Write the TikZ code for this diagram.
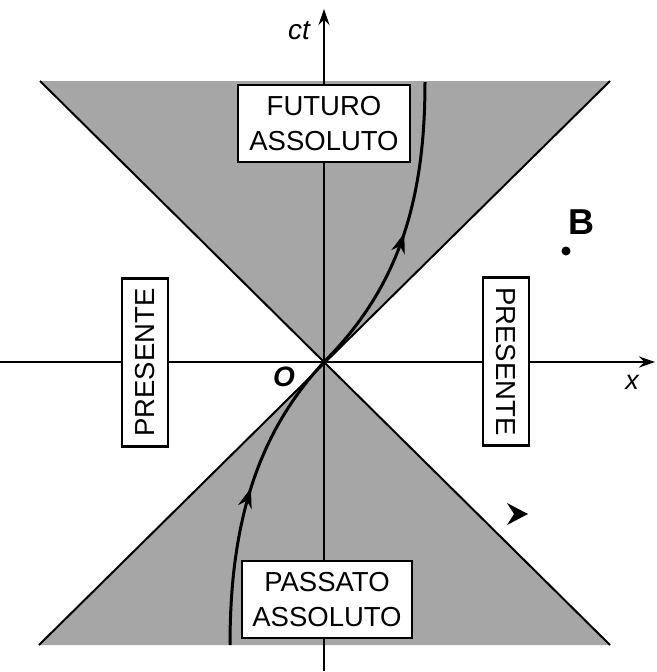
\documentclass[tikz,border=0pt]{standalone}
\usepackage{fontspec}
\setmainfont{Liberation Sans}
\usetikzlibrary{arrows.meta,decorations.markings}
\definecolor{cone}{HTML}{A6A6A6}
\tikzset{
  boxlabel/.style={draw=black, line width=2.4pt, fill=white, inner sep=0pt,
     font=\fontsize{27.5}{35}\selectfont, align=center},
  axis/.style={line width=1.5pt, -{Stealth[length=16pt,width=11pt]}},
  worldline/.style={line width=3pt, postaction={decorate},
     decoration={markings, mark=at position #1 with {\arrow{Stealth[length=20pt,width=14pt]}}}},
  coneedge/.style={line width=2pt},
}
\begin{document}
\begin{tikzpicture}[x=1pt,y=-1pt]
\useasboundingbox (0,0) rectangle (656,672);
% coordinates
\coordinate (O) at (324,362);
\coordinate (TL) at (40,81);
\coordinate (TR) at (610,81);
\coordinate (BL) at (39,645);
\coordinate (BR) at (610,645);
\coordinate (xs) at (0,362);
\coordinate (xe) at (655,362);
\coordinate (ys) at (324,671);
\coordinate (ye) at (324,9);
\coordinate (wtop) at (425,82);
\coordinate (wbot) at (230,645);
% cones
\fill[cone] (O) -- (TL) -- (TR) -- cycle;
\fill[cone] (O) -- (BL) -- (BR) -- cycle;
\draw[coneedge] (TL) -- (BR);
\draw[coneedge] (TR) -- (BL);
% axes
\draw[axis] (xs) -- (xe);
\draw[axis] (ys) -- (ye);
% world line
\draw[worldline=0.5] (O) .. controls (399,287) and (425,200) .. (wtop);
\draw[worldline=0.52] (wbot) .. controls (230,530) and (254,437) .. (O);
% boxes
\node[boxlabel, minimum width=172pt, minimum height=77pt] (fut) at (324,123.5) {FUTURO\\ASSOLUTO};
\node[boxlabel, minimum width=170pt, minimum height=77pt] (pas) at (327,599.5) {PASSATO\\ASSOLUTO};
\node[boxlabel, rotate=90, minimum width=168pt, minimum height=46pt] (presL) at (145,362.5) {PRESENTE};
\node[boxlabel, rotate=-90, minimum width=168pt, minimum height=46pt] (presR) at (506,361.5) {PRESENTE};
% labels
\node[font=\fontsize{28}{28}\selectfont\itshape] (ct) at (299,31) {ct};
\node[font=\fontsize{27}{27}\selectfont\itshape] (xl) at (632,382) {x};
\node[font=\fontsize{28}{28}\selectfont\bfseries\itshape] (ol) at (284,377) {O};
\node[font=\fontsize{36}{36}\selectfont\bfseries] (bl) at (581,222) {B};
\fill (566,251) circle (4.5);
% lone arrowhead
\fill (528,514) -- (507,503) -- (514,514) -- (507,525) -- cycle;
\end{tikzpicture}
\end{document}
